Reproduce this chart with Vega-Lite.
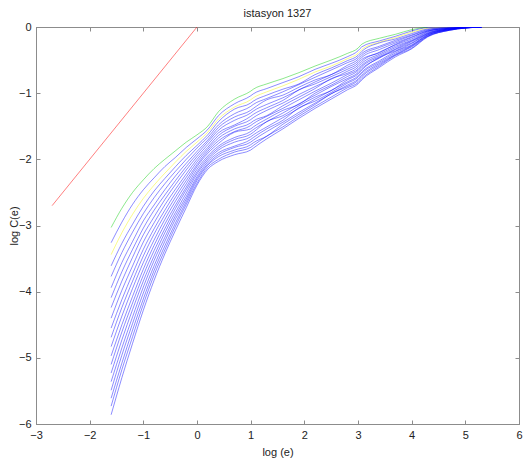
{
  "$schema": "https://vega.github.io/schema/vega-lite/v6.json",
  "width": 483,
  "height": 397,
  "autosize": {"type": "none"},
  "padding": {"left": 36, "top": 27, "right": 13, "bottom": 40},
  "title": {"text": "istasyon 1327", "font": "Liberation Sans", "fontSize": 11, "fontWeight": "normal", "color": "#222222", "offset": 2},
  "config": {
    "view": {"stroke": "#8c8c8c"},
    "axis": {
      "grid": false,
      "domainColor": "#8c8c8c",
      "tickColor": "#8c8c8c",
      "tickSize": -4,
      "labelPadding": 9,
      "labelFont": "Liberation Sans",
      "labelFontSize": 11,
      "labelColor": "#222222",
      "labelOverlap": false,
      "labelFlush": false,
      "titleFont": "Liberation Sans",
      "titleFontSize": 11,
      "titleFontWeight": "normal",
      "titleColor": "#222222"
    }
  },
  "resolve": {"axis": {"x": "independent", "y": "independent"}},
  "layer": [
    {
      "data": {"values": [{"x": -2.7, "y": -2.7}, {"x": 0, "y": 0}]},
      "mark": {"type": "line", "color": "#ff0000", "strokeOpacity": 0.5, "strokeWidth": 1, "clip": true},
      "encoding": {
        "x": {"field": "x", "type": "quantitative", "scale": {"domain": [-3, 6], "nice": false, "zero": false},
              "axis": {"orient": "bottom", "title": "log (e)", "values": [-3, -2, -1, 0, 1, 2, 3, 4, 5, 6], "titlePadding": 6}},
        "y": {"field": "y", "type": "quantitative", "scale": {"domain": [-6, 0], "nice": false, "zero": false},
              "axis": {"orient": "left", "title": "log C(e)", "values": [-6, -5, -4, -3, -2, -1, 0], "titlePadding": -1}}
      }
    },
    {
      "data": {"values": [
        {"m":1,"x":-1.6,"y":-3.03},{"m":1,"x":-1.4,"y":-2.74},{"m":1,"x":-1.2,"y":-2.5},{"m":1,"x":-1,"y":-2.31},{"m":1,"x":-0.8,"y":-2.14},{"m":1,"x":-0.6,"y":-2.0},{"m":1,"x":-0.4,"y":-1.87},{"m":1,"x":-0.2,"y":-1.74},{"m":1,"x":0,"y":-1.63},{"m":1,"x":0.2,"y":-1.5},{"m":1,"x":0.4,"y":-1.28},{"m":1,"x":0.7,"y":-1.09},{"m":1,"x":1,"y":-0.97},{"m":1,"x":1.05,"y":-0.94},{"m":1,"x":1.3,"y":-0.86},{"m":1,"x":1.6,"y":-0.78},{"m":1,"x":1.9,"y":-0.69},{"m":1,"x":2.2,"y":-0.59},{"m":1,"x":2.5,"y":-0.5},{"m":1,"x":2.8,"y":-0.4},{"m":1,"x":3,"y":-0.32},{"m":1,"x":3.07,"y":-0.26},{"m":1,"x":3.4,"y":-0.17},{"m":1,"x":3.7,"y":-0.11},{"m":1,"x":4,"y":-0.04},{"m":1,"x":4.3,"y":0},
        {"m":2,"x":-1.6,"y":-3.26},{"m":2,"x":-1.4,"y":-2.95},{"m":2,"x":-1.2,"y":-2.68},{"m":2,"x":-1,"y":-2.46},{"m":2,"x":-0.8,"y":-2.28},{"m":2,"x":-0.6,"y":-2.11},{"m":2,"x":-0.4,"y":-1.97},{"m":2,"x":-0.2,"y":-1.82},{"m":2,"x":0,"y":-1.69},{"m":2,"x":0.2,"y":-1.55},{"m":2,"x":0.4,"y":-1.34},{"m":2,"x":0.7,"y":-1.16},{"m":2,"x":1,"y":-1.04},{"m":2,"x":1.05,"y":-1.01},{"m":2,"x":1.3,"y":-0.93},{"m":2,"x":1.6,"y":-0.84},{"m":2,"x":1.9,"y":-0.75},{"m":2,"x":2.2,"y":-0.64},{"m":2,"x":2.5,"y":-0.55},{"m":2,"x":2.8,"y":-0.45},{"m":2,"x":3,"y":-0.36},{"m":2,"x":3.07,"y":-0.3},{"m":2,"x":3.4,"y":-0.21},{"m":2,"x":3.7,"y":-0.14},{"m":2,"x":4,"y":-0.06},{"m":2,"x":4.3,"y":-0.01},{"m":2,"x":4.7,"y":0},
        {"m":3,"x":-1.6,"y":-3.44},{"m":3,"x":-1.4,"y":-3.11},{"m":3,"x":-1.2,"y":-2.83},{"m":3,"x":-1,"y":-2.59},{"m":3,"x":-0.8,"y":-2.39},{"m":3,"x":-0.6,"y":-2.21},{"m":3,"x":-0.4,"y":-2.04},{"m":3,"x":-0.2,"y":-1.88},{"m":3,"x":0,"y":-1.74},{"m":3,"x":0.2,"y":-1.59},{"m":3,"x":0.4,"y":-1.39},{"m":3,"x":0.7,"y":-1.21},{"m":3,"x":1,"y":-1.1},{"m":3,"x":1.05,"y":-1.07},{"m":3,"x":1.3,"y":-0.98},{"m":3,"x":1.6,"y":-0.89},{"m":3,"x":1.9,"y":-0.79},{"m":3,"x":2.2,"y":-0.68},{"m":3,"x":2.5,"y":-0.59},{"m":3,"x":2.8,"y":-0.48},{"m":3,"x":3,"y":-0.4},{"m":3,"x":3.07,"y":-0.34},{"m":3,"x":3.4,"y":-0.23},{"m":3,"x":3.7,"y":-0.16},{"m":3,"x":4,"y":-0.08},{"m":3,"x":4.3,"y":-0.02},{"m":3,"x":4.7,"y":-0.01},{"m":3,"x":5.3,"y":0},
        {"m":4,"x":-1.6,"y":-3.61},{"m":4,"x":-1.4,"y":-3.27},{"m":4,"x":-1.2,"y":-2.98},{"m":4,"x":-1,"y":-2.71},{"m":4,"x":-0.8,"y":-2.48},{"m":4,"x":-0.6,"y":-2.29},{"m":4,"x":-0.4,"y":-2.11},{"m":4,"x":-0.2,"y":-1.94},{"m":4,"x":0,"y":-1.79},{"m":4,"x":0.2,"y":-1.63},{"m":4,"x":0.4,"y":-1.43},{"m":4,"x":0.7,"y":-1.24},{"m":4,"x":1,"y":-1.15},{"m":4,"x":1.05,"y":-1.12},{"m":4,"x":1.3,"y":-1.03},{"m":4,"x":1.6,"y":-0.94},{"m":4,"x":1.9,"y":-0.86},{"m":4,"x":2.2,"y":-0.72},{"m":4,"x":2.5,"y":-0.62},{"m":4,"x":2.8,"y":-0.51},{"m":4,"x":3,"y":-0.43},{"m":4,"x":3.07,"y":-0.37},{"m":4,"x":3.4,"y":-0.24},{"m":4,"x":3.7,"y":-0.18},{"m":4,"x":4,"y":-0.1},{"m":4,"x":4.3,"y":-0.03},{"m":4,"x":4.7,"y":-0.01},{"m":4,"x":5.3,"y":0},
        {"m":5,"x":-1.6,"y":-3.77},{"m":5,"x":-1.4,"y":-3.41},{"m":5,"x":-1.2,"y":-3.1},{"m":5,"x":-1,"y":-2.82},{"m":5,"x":-0.8,"y":-2.58},{"m":5,"x":-0.6,"y":-2.37},{"m":5,"x":-0.4,"y":-2.18},{"m":5,"x":-0.2,"y":-2.0},{"m":5,"x":0,"y":-1.83},{"m":5,"x":0.2,"y":-1.67},{"m":5,"x":0.4,"y":-1.48},{"m":5,"x":0.7,"y":-1.31},{"m":5,"x":1,"y":-1.2},{"m":5,"x":1.05,"y":-1.17},{"m":5,"x":1.3,"y":-1.08},{"m":5,"x":1.6,"y":-0.98},{"m":5,"x":1.9,"y":-0.87},{"m":5,"x":2.2,"y":-0.76},{"m":5,"x":2.5,"y":-0.65},{"m":5,"x":2.8,"y":-0.54},{"m":5,"x":3,"y":-0.46},{"m":5,"x":3.07,"y":-0.4},{"m":5,"x":3.4,"y":-0.29},{"m":5,"x":3.7,"y":-0.2},{"m":5,"x":4,"y":-0.12},{"m":5,"x":4.3,"y":-0.04},{"m":5,"x":4.7,"y":-0.01},{"m":5,"x":5.3,"y":0},
        {"m":6,"x":-1.6,"y":-3.94},{"m":6,"x":-1.4,"y":-3.56},{"m":6,"x":-1.2,"y":-3.24},{"m":6,"x":-1,"y":-2.93},{"m":6,"x":-0.8,"y":-2.69},{"m":6,"x":-0.6,"y":-2.46},{"m":6,"x":-0.4,"y":-2.25},{"m":6,"x":-0.2,"y":-2.06},{"m":6,"x":0,"y":-1.88},{"m":6,"x":0.2,"y":-1.71},{"m":6,"x":0.4,"y":-1.52},{"m":6,"x":0.7,"y":-1.36},{"m":6,"x":1,"y":-1.26},{"m":6,"x":1.05,"y":-1.23},{"m":6,"x":1.3,"y":-1.1},{"m":6,"x":1.6,"y":-1.03},{"m":6,"x":1.9,"y":-0.91},{"m":6,"x":2.2,"y":-0.8},{"m":6,"x":2.5,"y":-0.72},{"m":6,"x":2.8,"y":-0.58},{"m":6,"x":3,"y":-0.49},{"m":6,"x":3.07,"y":-0.43},{"m":6,"x":3.4,"y":-0.31},{"m":6,"x":3.7,"y":-0.22},{"m":6,"x":4,"y":-0.13},{"m":6,"x":4.3,"y":-0.05},{"m":6,"x":4.7,"y":-0.02},{"m":6,"x":5.3,"y":0},
        {"m":7,"x":-1.6,"y":-4.09},{"m":7,"x":-1.4,"y":-3.7},{"m":7,"x":-1.2,"y":-3.36},{"m":7,"x":-1,"y":-3.04},{"m":7,"x":-0.8,"y":-2.77},{"m":7,"x":-0.6,"y":-2.54},{"m":7,"x":-0.4,"y":-2.32},{"m":7,"x":-0.2,"y":-2.11},{"m":7,"x":0,"y":-1.92},{"m":7,"x":0.2,"y":-1.74},{"m":7,"x":0.4,"y":-1.56},{"m":7,"x":0.7,"y":-1.41},{"m":7,"x":1,"y":-1.3},{"m":7,"x":1.05,"y":-1.27},{"m":7,"x":1.3,"y":-1.17},{"m":7,"x":1.6,"y":-1.07},{"m":7,"x":1.9,"y":-0.95},{"m":7,"x":2.2,"y":-0.83},{"m":7,"x":2.5,"y":-0.72},{"m":7,"x":2.8,"y":-0.61},{"m":7,"x":3,"y":-0.52},{"m":7,"x":3.07,"y":-0.46},{"m":7,"x":3.4,"y":-0.34},{"m":7,"x":3.7,"y":-0.24},{"m":7,"x":4,"y":-0.15},{"m":7,"x":4.3,"y":-0.06},{"m":7,"x":4.7,"y":-0.02},{"m":7,"x":5.3,"y":0},
        {"m":8,"x":-1.6,"y":-4.24},{"m":8,"x":-1.4,"y":-3.84},{"m":8,"x":-1.2,"y":-3.48},{"m":8,"x":-1,"y":-3.14},{"m":8,"x":-0.8,"y":-2.87},{"m":8,"x":-0.6,"y":-2.61},{"m":8,"x":-0.4,"y":-2.38},{"m":8,"x":-0.2,"y":-2.16},{"m":8,"x":0,"y":-1.96},{"m":8,"x":0.2,"y":-1.78},{"m":8,"x":0.4,"y":-1.6},{"m":8,"x":0.7,"y":-1.48},{"m":8,"x":1,"y":-1.35},{"m":8,"x":1.05,"y":-1.32},{"m":8,"x":1.3,"y":-1.22},{"m":8,"x":1.6,"y":-1.11},{"m":8,"x":1.9,"y":-0.95},{"m":8,"x":2.2,"y":-0.86},{"m":8,"x":2.5,"y":-0.75},{"m":8,"x":2.8,"y":-0.64},{"m":8,"x":3,"y":-0.55},{"m":8,"x":3.07,"y":-0.49},{"m":8,"x":3.4,"y":-0.39},{"m":8,"x":3.7,"y":-0.26},{"m":8,"x":4,"y":-0.16},{"m":8,"x":4.3,"y":-0.06},{"m":8,"x":4.7,"y":-0.02},{"m":8,"x":5.3,"y":0},
        {"m":9,"x":-1.6,"y":-4.4},{"m":9,"x":-1.4,"y":-3.98},{"m":9,"x":-1.2,"y":-3.61},{"m":9,"x":-1,"y":-3.25},{"m":9,"x":-0.8,"y":-2.96},{"m":9,"x":-0.6,"y":-2.69},{"m":9,"x":-0.4,"y":-2.45},{"m":9,"x":-0.2,"y":-2.22},{"m":9,"x":0,"y":-2.0},{"m":9,"x":0.2,"y":-1.82},{"m":9,"x":0.4,"y":-1.64},{"m":9,"x":0.7,"y":-1.5},{"m":9,"x":1,"y":-1.4},{"m":9,"x":1.05,"y":-1.37},{"m":9,"x":1.3,"y":-1.26},{"m":9,"x":1.6,"y":-1.15},{"m":9,"x":1.9,"y":-1.02},{"m":9,"x":2.2,"y":-0.9},{"m":9,"x":2.5,"y":-0.79},{"m":9,"x":2.8,"y":-0.67},{"m":9,"x":3,"y":-0.58},{"m":9,"x":3.07,"y":-0.52},{"m":9,"x":3.4,"y":-0.38},{"m":9,"x":3.7,"y":-0.27},{"m":9,"x":4,"y":-0.18},{"m":9,"x":4.3,"y":-0.07},{"m":9,"x":4.7,"y":-0.02},{"m":9,"x":5.3,"y":0},
        {"m":10,"x":-1.6,"y":-4.55},{"m":10,"x":-1.4,"y":-4.12},{"m":10,"x":-1.2,"y":-3.73},{"m":10,"x":-1,"y":-3.36},{"m":10,"x":-0.8,"y":-3.05},{"m":10,"x":-0.6,"y":-2.77},{"m":10,"x":-0.4,"y":-2.51},{"m":10,"x":-0.2,"y":-2.27},{"m":10,"x":0,"y":-2.04},{"m":10,"x":0.2,"y":-1.85},{"m":10,"x":0.4,"y":-1.68},{"m":10,"x":0.7,"y":-1.54},{"m":10,"x":1,"y":-1.45},{"m":10,"x":1.05,"y":-1.42},{"m":10,"x":1.3,"y":-1.34},{"m":10,"x":1.6,"y":-1.19},{"m":10,"x":1.9,"y":-1.06},{"m":10,"x":2.2,"y":-0.93},{"m":10,"x":2.5,"y":-0.78},{"m":10,"x":2.8,"y":-0.7},{"m":10,"x":3,"y":-0.61},{"m":10,"x":3.07,"y":-0.55},{"m":10,"x":3.4,"y":-0.41},{"m":10,"x":3.7,"y":-0.29},{"m":10,"x":4,"y":-0.2},{"m":10,"x":4.3,"y":-0.08},{"m":10,"x":4.7,"y":-0.03},{"m":10,"x":5.3,"y":0},
        {"m":11,"x":-1.6,"y":-4.69},{"m":11,"x":-1.4,"y":-4.24},{"m":11,"x":-1.2,"y":-3.84},{"m":11,"x":-1,"y":-3.46},{"m":11,"x":-0.8,"y":-3.13},{"m":11,"x":-0.6,"y":-2.84},{"m":11,"x":-0.4,"y":-2.57},{"m":11,"x":-0.2,"y":-2.32},{"m":11,"x":0,"y":-2.08},{"m":11,"x":0.2,"y":-1.88},{"m":11,"x":0.4,"y":-1.72},{"m":11,"x":0.7,"y":-1.58},{"m":11,"x":1,"y":-1.49},{"m":11,"x":1.05,"y":-1.46},{"m":11,"x":1.3,"y":-1.35},{"m":11,"x":1.6,"y":-1.23},{"m":11,"x":1.9,"y":-1.1},{"m":11,"x":2.2,"y":-0.97},{"m":11,"x":2.5,"y":-0.85},{"m":11,"x":2.8,"y":-0.72},{"m":11,"x":3,"y":-0.64},{"m":11,"x":3.07,"y":-0.58},{"m":11,"x":3.4,"y":-0.43},{"m":11,"x":3.7,"y":-0.31},{"m":11,"x":4,"y":-0.21},{"m":11,"x":4.3,"y":-0.09},{"m":11,"x":4.7,"y":-0.03},{"m":11,"x":5.3,"y":0},
        {"m":12,"x":-1.6,"y":-4.83},{"m":12,"x":-1.4,"y":-4.37},{"m":12,"x":-1.2,"y":-3.95},{"m":12,"x":-1,"y":-3.56},{"m":12,"x":-0.8,"y":-3.22},{"m":12,"x":-0.6,"y":-2.91},{"m":12,"x":-0.4,"y":-2.63},{"m":12,"x":-0.2,"y":-2.37},{"m":12,"x":0,"y":-2.11},{"m":12,"x":0.2,"y":-1.91},{"m":12,"x":0.4,"y":-1.76},{"m":12,"x":0.7,"y":-1.59},{"m":12,"x":1,"y":-1.54},{"m":12,"x":1.05,"y":-1.51},{"m":12,"x":1.3,"y":-1.39},{"m":12,"x":1.6,"y":-1.26},{"m":12,"x":1.9,"y":-1.17},{"m":12,"x":2.2,"y":-1.0},{"m":12,"x":2.5,"y":-0.88},{"m":12,"x":2.8,"y":-0.75},{"m":12,"x":3,"y":-0.66},{"m":12,"x":3.07,"y":-0.6},{"m":12,"x":3.4,"y":-0.45},{"m":12,"x":3.7,"y":-0.33},{"m":12,"x":4,"y":-0.22},{"m":12,"x":4.3,"y":-0.1},{"m":12,"x":4.7,"y":-0.03},{"m":12,"x":5.3,"y":0},
        {"m":13,"x":-1.6,"y":-4.97},{"m":13,"x":-1.4,"y":-4.5},{"m":13,"x":-1.2,"y":-4.07},{"m":13,"x":-1,"y":-3.66},{"m":13,"x":-0.8,"y":-3.3},{"m":13,"x":-0.6,"y":-2.98},{"m":13,"x":-0.4,"y":-2.69},{"m":13,"x":-0.2,"y":-2.42},{"m":13,"x":0,"y":-2.15},{"m":13,"x":0.2,"y":-1.95},{"m":13,"x":0.4,"y":-1.8},{"m":13,"x":0.7,"y":-1.67},{"m":13,"x":1,"y":-1.58},{"m":13,"x":1.05,"y":-1.55},{"m":13,"x":1.3,"y":-1.43},{"m":13,"x":1.6,"y":-1.3},{"m":13,"x":1.9,"y":-1.16},{"m":13,"x":2.2,"y":-1.03},{"m":13,"x":2.5,"y":-0.9},{"m":13,"x":2.8,"y":-0.78},{"m":13,"x":3,"y":-0.69},{"m":13,"x":3.07,"y":-0.63},{"m":13,"x":3.4,"y":-0.47},{"m":13,"x":3.7,"y":-0.34},{"m":13,"x":4,"y":-0.24},{"m":13,"x":4.3,"y":-0.1},{"m":13,"x":4.7,"y":-0.03},{"m":13,"x":5.3,"y":0},
        {"m":14,"x":-1.6,"y":-5.1},{"m":14,"x":-1.4,"y":-4.61},{"m":14,"x":-1.2,"y":-4.17},{"m":14,"x":-1,"y":-3.75},{"m":14,"x":-0.8,"y":-3.38},{"m":14,"x":-0.6,"y":-3.05},{"m":14,"x":-0.4,"y":-2.74},{"m":14,"x":-0.2,"y":-2.46},{"m":14,"x":0,"y":-2.19},{"m":14,"x":0.2,"y":-1.98},{"m":14,"x":0.4,"y":-1.83},{"m":14,"x":0.7,"y":-1.7},{"m":14,"x":1,"y":-1.62},{"m":14,"x":1.05,"y":-1.59},{"m":14,"x":1.3,"y":-1.43},{"m":14,"x":1.6,"y":-1.34},{"m":14,"x":1.9,"y":-1.19},{"m":14,"x":2.2,"y":-1.06},{"m":14,"x":2.5,"y":-0.96},{"m":14,"x":2.8,"y":-0.8},{"m":14,"x":3,"y":-0.71},{"m":14,"x":3.07,"y":-0.65},{"m":14,"x":3.4,"y":-0.46},{"m":14,"x":3.7,"y":-0.36},{"m":14,"x":4,"y":-0.25},{"m":14,"x":4.3,"y":-0.11},{"m":14,"x":4.7,"y":-0.04},{"m":14,"x":5.3,"y":0},
        {"m":15,"x":-1.6,"y":-5.23},{"m":15,"x":-1.4,"y":-4.73},{"m":15,"x":-1.2,"y":-4.27},{"m":15,"x":-1,"y":-3.84},{"m":15,"x":-0.8,"y":-3.46},{"m":15,"x":-0.6,"y":-3.11},{"m":15,"x":-0.4,"y":-2.8},{"m":15,"x":-0.2,"y":-2.51},{"m":15,"x":0,"y":-2.22},{"m":15,"x":0.2,"y":-2.01},{"m":15,"x":0.4,"y":-1.86},{"m":15,"x":0.7,"y":-1.74},{"m":15,"x":1,"y":-1.66},{"m":15,"x":1.05,"y":-1.63},{"m":15,"x":1.3,"y":-1.51},{"m":15,"x":1.6,"y":-1.37},{"m":15,"x":1.9,"y":-1.23},{"m":15,"x":2.2,"y":-1.09},{"m":15,"x":2.5,"y":-0.96},{"m":15,"x":2.8,"y":-0.83},{"m":15,"x":3,"y":-0.74},{"m":15,"x":3.07,"y":-0.68},{"m":15,"x":3.4,"y":-0.51},{"m":15,"x":3.7,"y":-0.37},{"m":15,"x":4,"y":-0.27},{"m":15,"x":4.3,"y":-0.12},{"m":15,"x":4.7,"y":-0.04},{"m":15,"x":5.3,"y":0},
        {"m":16,"x":-1.6,"y":-5.36},{"m":16,"x":-1.4,"y":-4.85},{"m":16,"x":-1.2,"y":-4.38},{"m":16,"x":-1,"y":-3.93},{"m":16,"x":-0.8,"y":-3.53},{"m":16,"x":-0.6,"y":-3.18},{"m":16,"x":-0.4,"y":-2.85},{"m":16,"x":-0.2,"y":-2.56},{"m":16,"x":0,"y":-2.26},{"m":16,"x":0.2,"y":-2.04},{"m":16,"x":0.4,"y":-1.9},{"m":16,"x":0.7,"y":-1.8},{"m":16,"x":1,"y":-1.7},{"m":16,"x":1.05,"y":-1.67},{"m":16,"x":1.3,"y":-1.54},{"m":16,"x":1.6,"y":-1.41},{"m":16,"x":1.9,"y":-1.22},{"m":16,"x":2.2,"y":-1.12},{"m":16,"x":2.5,"y":-0.99},{"m":16,"x":2.8,"y":-0.85},{"m":16,"x":3,"y":-0.76},{"m":16,"x":3.07,"y":-0.7},{"m":16,"x":3.4,"y":-0.53},{"m":16,"x":3.7,"y":-0.39},{"m":16,"x":4,"y":-0.28},{"m":16,"x":4.3,"y":-0.12},{"m":16,"x":4.7,"y":-0.04},{"m":16,"x":5.3,"y":0},
        {"m":17,"x":-1.6,"y":-5.49},{"m":17,"x":-1.4,"y":-4.96},{"m":17,"x":-1.2,"y":-4.48},{"m":17,"x":-1,"y":-4.02},{"m":17,"x":-0.8,"y":-3.61},{"m":17,"x":-0.6,"y":-3.24},{"m":17,"x":-0.4,"y":-2.9},{"m":17,"x":-0.2,"y":-2.6},{"m":17,"x":0,"y":-2.29},{"m":17,"x":0.2,"y":-2.07},{"m":17,"x":0.4,"y":-1.93},{"m":17,"x":0.7,"y":-1.82},{"m":17,"x":1,"y":-1.74},{"m":17,"x":1.05,"y":-1.71},{"m":17,"x":1.3,"y":-1.58},{"m":17,"x":1.6,"y":-1.44},{"m":17,"x":1.9,"y":-1.29},{"m":17,"x":2.2,"y":-1.15},{"m":17,"x":2.5,"y":-1.01},{"m":17,"x":2.8,"y":-0.88},{"m":17,"x":3,"y":-0.79},{"m":17,"x":3.07,"y":-0.73},{"m":17,"x":3.4,"y":-0.55},{"m":17,"x":3.7,"y":-0.41},{"m":17,"x":4,"y":-0.29},{"m":17,"x":4.3,"y":-0.13},{"m":17,"x":4.7,"y":-0.04},{"m":17,"x":5.3,"y":0},
        {"m":18,"x":-1.6,"y":-5.61},{"m":18,"x":-1.4,"y":-5.08},{"m":18,"x":-1.2,"y":-4.58},{"m":18,"x":-1,"y":-4.11},{"m":18,"x":-0.8,"y":-3.68},{"m":18,"x":-0.6,"y":-3.31},{"m":18,"x":-0.4,"y":-2.96},{"m":18,"x":-0.2,"y":-2.64},{"m":18,"x":0,"y":-2.32},{"m":18,"x":0.2,"y":-2.09},{"m":18,"x":0.4,"y":-1.96},{"m":18,"x":0.7,"y":-1.86},{"m":18,"x":1,"y":-1.78},{"m":18,"x":1.05,"y":-1.75},{"m":18,"x":1.3,"y":-1.65},{"m":18,"x":1.6,"y":-1.47},{"m":18,"x":1.9,"y":-1.32},{"m":18,"x":2.2,"y":-1.17},{"m":18,"x":2.5,"y":-1.01},{"m":18,"x":2.8,"y":-0.9},{"m":18,"x":3,"y":-0.81},{"m":18,"x":3.07,"y":-0.75},{"m":18,"x":3.4,"y":-0.57},{"m":18,"x":3.7,"y":-0.42},{"m":18,"x":4,"y":-0.3},{"m":18,"x":4.3,"y":-0.14},{"m":18,"x":4.7,"y":-0.05},{"m":18,"x":5.3,"y":0},
        {"m":19,"x":-1.6,"y":-5.73},{"m":19,"x":-1.4,"y":-5.18},{"m":19,"x":-1.2,"y":-4.68},{"m":19,"x":-1,"y":-4.19},{"m":19,"x":-0.8,"y":-3.75},{"m":19,"x":-0.6,"y":-3.37},{"m":19,"x":-0.4,"y":-3.01},{"m":19,"x":-0.2,"y":-2.68},{"m":19,"x":0,"y":-2.36},{"m":19,"x":0.2,"y":-2.12},{"m":19,"x":0.4,"y":-2.0},{"m":19,"x":0.7,"y":-1.89},{"m":19,"x":1,"y":-1.82},{"m":19,"x":1.05,"y":-1.79},{"m":19,"x":1.3,"y":-1.65},{"m":19,"x":1.6,"y":-1.51},{"m":19,"x":1.9,"y":-1.35},{"m":19,"x":2.2,"y":-1.2},{"m":19,"x":2.5,"y":-1.06},{"m":19,"x":2.8,"y":-0.92},{"m":19,"x":3,"y":-0.84},{"m":19,"x":3.07,"y":-0.78},{"m":19,"x":3.4,"y":-0.59},{"m":19,"x":3.7,"y":-0.43},{"m":19,"x":4,"y":-0.32},{"m":19,"x":4.3,"y":-0.14},{"m":19,"x":4.7,"y":-0.05},{"m":19,"x":5.3,"y":0},
        {"m":20,"x":-1.6,"y":-5.86},{"m":20,"x":-1.4,"y":-5.3},{"m":20,"x":-1.2,"y":-4.78},{"m":20,"x":-1,"y":-4.28},{"m":20,"x":-0.8,"y":-3.83},{"m":20,"x":-0.6,"y":-3.43},{"m":20,"x":-0.4,"y":-3.07},{"m":20,"x":-0.2,"y":-2.73},{"m":20,"x":0,"y":-2.39},{"m":20,"x":0.2,"y":-2.15},{"m":20,"x":0.4,"y":-2.03},{"m":20,"x":0.7,"y":-1.93},{"m":20,"x":1,"y":-1.86},{"m":20,"x":1.05,"y":-1.83},{"m":20,"x":1.3,"y":-1.69},{"m":20,"x":1.6,"y":-1.54},{"m":20,"x":1.9,"y":-1.38},{"m":20,"x":2.2,"y":-1.23},{"m":20,"x":2.5,"y":-1.09},{"m":20,"x":2.8,"y":-0.95},{"m":20,"x":3,"y":-0.86},{"m":20,"x":3.07,"y":-0.8},{"m":20,"x":3.4,"y":-0.61},{"m":20,"x":3.7,"y":-0.45},{"m":20,"x":4,"y":-0.33},{"m":20,"x":4.3,"y":-0.15},{"m":20,"x":4.7,"y":-0.05},{"m":20,"x":5.3,"y":0}
      ]},
      "mark": {"type": "line", "strokeWidth": 1, "strokeOpacity": 0.45, "clip": true, "interpolate": "monotone"},
      "encoding": {
        "x": {"field": "x", "type": "quantitative", "axis": {"orient": "top", "labels": false, "title": null, "values": [-3, -2, -1, 0, 1, 2, 3, 4, 5, 6]}},
        "y": {"field": "y", "type": "quantitative", "axis": {"orient": "right", "labels": false, "title": null, "values": [-6, -5, -4, -3, -2, -1, 0]}},
        "color": {
          "field": "m", "type": "nominal", "legend": null,
          "scale": {
            "domain": [1, 2, 3, 4, 5, 6, 7, 8, 9, 10, 11, 12, 13, 14, 15, 16, 17, 18, 19, 20],
            "range": ["#00cc00", "#0000ff", "#f5f500", "#0000ff", "#0000ff", "#0000ff", "#0000ff", "#0000ff", "#0000ff", "#0000ff", "#0000ff", "#0000ff", "#0000ff", "#0000ff", "#0000ff", "#0000ff", "#0000ff", "#0000ff", "#0000ff", "#0000ff"]
          }
        }
      }
    }
  ]
}
